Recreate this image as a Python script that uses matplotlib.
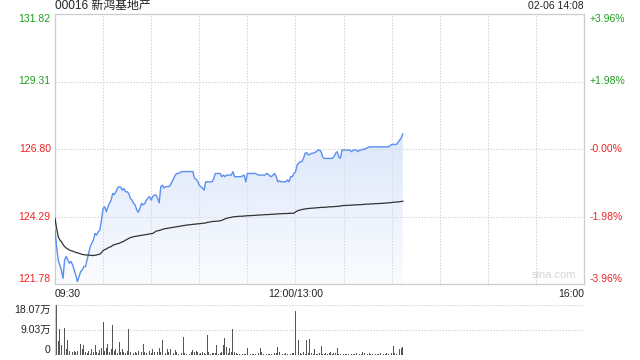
import numpy as np
import matplotlib
matplotlib.use("Agg")
import matplotlib.pyplot as plt
import matplotlib.transforms as mtransforms
from matplotlib.patches import Polygon

plt.rcParams['font.family'] = ['Liberation Sans', 'Noto Sans CJK SC', 'DejaVu Sans']

title = "00016 新鸿基地产"
stamp = "02-06 14:08"
prev_close = 126.80
price_ticks = [131.82, 129.31, 126.80, 124.29, 121.78]
price_labels = ["131.82", "129.31", "126.80", "124.29", "121.78"]
pct_labels = ["+3.96%", "+1.98%", "-0.00%", "-1.98%", "-3.96%"]
label_colors = ["#1f9e1f", "#1f9e1f", "#ee2222", "#ee2222", "#ee2222"]
time_labels = ["09:30", "12:00/13:00", "16:00"]
time_label_pos = [0, 150, 330]
total_minutes = 330
vol_ticks = [18.07, 9.03, 0]
vol_labels = ["18.07万", "9.03万", "0"]

price = [
    123.79, 123.17, 122.67, 122.49, 122.30, 121.99, 122.67, 122.80, 122.67, 122.55,
    122.62, 122.49, 122.30, 122.11, 121.87, 122.05, 122.24, 122.30, 122.43, 122.43,
    122.67, 122.92, 123.17, 123.30, 123.42, 123.66, 123.60, 123.72, 123.79, 124.16,
    124.59, 124.65, 124.47, 124.65, 124.78, 124.90, 125.15, 125.10, 125.21, 125.34,
    125.40, 125.38, 125.27, 125.33, 125.21, 125.21, 125.15, 124.97, 124.90, 124.78,
    124.72, 124.53, 124.45, 124.60, 124.78, 124.72, 124.78, 124.90, 124.97, 125.03,
    124.90, 125.03, 125.09, 125.09, 124.97, 124.80, 125.40, 125.46, 125.35, 125.40,
    125.40, 125.40, 125.46, 125.58, 125.70, 125.83, 125.89, 125.89, 125.92, 125.96,
    125.96, 125.96, 125.96, 125.96, 125.96, 125.96, 125.96, 125.71, 125.68, 125.60,
    125.45, 125.40, 125.35, 125.27, 125.58, 125.58, 125.58, 125.58, 125.58, 125.70,
    125.89, 125.89, 125.89, 125.89, 125.77, 125.83, 125.77, 125.83, 125.83, 125.83,
    125.83, 125.96, 125.77, 125.77, 125.77, 125.77, 125.77, 125.80, 125.83, 125.58,
    125.89, 125.89, 125.89, 125.89, 125.89, 125.89, 125.86, 125.83, 125.83, 125.83,
    125.83, 125.83, 125.89, 125.86, 125.80, 125.77, 125.83, 125.89, 125.77, 125.58,
    125.62, 125.58, 125.58, 125.58, 125.58, 125.65, 125.58, 125.77, 125.77, 125.89,
    125.95, 126.20, 126.27, 126.33, 126.33, 126.45, 126.64, 126.67, 126.58, 126.60,
    126.64, 126.64, 126.67, 126.70, 126.76, 126.76, 126.70, 126.51, 126.45, 126.45,
    126.45, 126.45, 126.45, 126.45, 126.51, 126.64, 126.70, 126.51, 126.45, 126.76,
    126.76, 126.76, 126.76, 126.76, 126.76, 126.70, 126.76, 126.76, 126.76, 126.70,
    126.76, 126.76, 126.79, 126.79, 126.82, 126.85, 126.88, 126.88, 126.88, 126.88,
    126.88, 126.88, 126.88, 126.88, 126.88, 126.88, 126.88, 126.88, 126.88, 126.92,
    126.97, 126.97, 126.97, 126.97, 127.05, 127.13, 127.22, 127.36,
]

avg_price = [
    124.22, 123.85, 123.54, 123.42, 123.35, 123.25, 123.17, 123.12, 123.08, 123.04,
    123.02, 123.00, 122.98, 122.95, 122.94, 122.92, 122.90, 122.88, 122.87, 122.86,
    122.86, 122.85, 122.85, 122.84, 122.84, 122.85, 122.86, 122.88, 122.89, 122.95,
    123.02, 123.06, 123.08, 123.12, 123.15, 123.17, 123.22, 123.24, 123.26, 123.28,
    123.29, 123.32, 123.35, 123.37, 123.41, 123.44, 123.48, 123.50, 123.52, 123.54,
    123.55, 123.56, 123.57, 123.58, 123.59, 123.60, 123.61, 123.62, 123.63, 123.64,
    123.65, 123.66, 123.70, 123.74, 123.76, 123.77, 123.79, 123.81, 123.83, 123.84,
    123.85, 123.86, 123.87, 123.88, 123.89, 123.90, 123.91, 123.92, 123.93, 123.94,
    123.95, 123.96, 123.97, 123.98, 123.98, 123.99, 124.00, 124.00, 124.01, 124.02,
    124.02, 124.03, 124.04, 124.04, 124.05, 124.07, 124.08, 124.09, 124.10, 124.11,
    124.11, 124.12, 124.12, 124.13, 124.15, 124.17, 124.20, 124.22, 124.24, 124.25,
    124.26, 124.28, 124.28, 124.29, 124.29, 124.30, 124.30, 124.30, 124.31, 124.31,
    124.32, 124.32, 124.32, 124.33, 124.33, 124.33, 124.34, 124.34, 124.35, 124.35,
    124.35, 124.36, 124.36, 124.36, 124.37, 124.37, 124.37, 124.38, 124.38, 124.39,
    124.39, 124.39, 124.40, 124.40, 124.40, 124.40, 124.41, 124.41, 124.41, 124.41,
    124.46, 124.49, 124.52, 124.53, 124.55, 124.56, 124.57, 124.58, 124.59, 124.59,
    124.60, 124.60, 124.61, 124.61, 124.62, 124.62, 124.63, 124.63, 124.63, 124.64,
    124.64, 124.65, 124.65, 124.65, 124.66, 124.66, 124.67, 124.67, 124.68, 124.69,
    124.70, 124.70, 124.70, 124.71, 124.71, 124.71, 124.72, 124.72, 124.72, 124.73,
    124.73, 124.73, 124.74, 124.74, 124.75, 124.75, 124.75, 124.76, 124.76, 124.76,
    124.77, 124.77, 124.77, 124.78, 124.78, 124.78, 124.79, 124.79, 124.80, 124.80,
    124.81, 124.82, 124.82, 124.83, 124.83, 124.84, 124.85, 124.86,
]

volume_wan = [
    12.6, 18.07, 5.0, 9.3, 3.6, 3.0, 9.6, 2.0, 5.6, 1.5,
    6.6, 1.2, 1.5, 1.0, 1.3, 0.8, 4.0, 2.0, 3.6, 1.0,
    0.8, 1.5, 0.5, 2.0, 1.2, 3.6, 1.0, 0.6, 1.8, 2.5,
    12.0, 1.5, 2.4, 4.0, 1.0, 2.2, 10.8, 1.5, 2.0, 0.8,
    4.8, 1.2, 2.0, 1.0, 0.7, 1.3, 9.3, 1.0, 3.6, 0.6,
    1.0, 0.8, 1.5, 0.5, 1.0, 4.0, 1.2, 0.6, 0.4, 1.5,
    0.8, 2.0, 1.0, 5.8, 1.2, 2.5, 1.0, 5.4, 1.5, 0.8,
    2.0, 1.0, 2.3, 1.2, 0.6, 1.8, 1.0, 0.5, 1.2, 0.8,
    6.6, 0.7, 0.5, 1.2, 0.4, 1.0, 1.8, 1.2, 1.6, 1.0,
    0.5, 0.8, 1.0, 0.6, 0.4, 7.2, 1.0, 0.5, 0.8, 0.6,
    0.6, 3.6, 0.4, 0.7, 1.0, 3.6, 6.0, 3.0, 0.8, 2.5,
    1.0, 9.3, 1.2, 0.6, 0.5, 0.4, 0.3, 0.5, 0.3, 0.4,
    2.5, 0.6, 0.4, 0.3, 0.5, 0.2, 0.4, 0.6, 2.5, 1.0,
    0.4, 0.3, 0.5, 0.2, 0.3, 0.4, 0.5, 0.8, 0.6, 3.0,
    1.2, 0.5, 0.4, 0.3, 0.6, 0.5, 0.4, 0.3, 0.8, 0.6,
    16.0, 0.8, 5.4, 0.6, 0.5, 1.0, 0.5, 5.6, 0.8, 5.8,
    0.6, 0.4, 2.0, 0.5, 0.3, 0.6, 3.2, 0.5, 0.4, 0.8,
    0.5, 0.6, 1.0, 0.4, 0.6, 0.8, 2.5, 0.5, 0.4, 5.4,
    0.5, 0.3, 0.4, 0.3, 0.5, 0.3, 0.4, 0.5, 0.6, 0.8,
    0.5, 0.4, 1.0, 0.6, 1.2, 0.5, 0.6, 0.3, 0.4, 0.5,
    0.3, 0.4, 0.5, 0.6, 0.4, 0.3, 0.5, 0.7, 0.4, 0.6,
    0.8, 3.2, 0.6, 0.5, 1.0, 2.0, 2.6, 2.8,
]

n = len(price)
minutes = np.arange(n)

fig = plt.figure(figsize=(6.4, 3.6), dpi=100)
W, H = 640, 360
L, R = 55, 584
ax = fig.add_axes([L / W, 1 - 284 / H, (R - L) / W, (284 - 14) / H])
axv = fig.add_axes([L / W, 1 - 355 / H, (R - L) / W, (355 - 305) / H])

grid_c = "#cfcfcf"
spine_c = "#cccccc"
fs = 7.5

# ---- main price axes ----
ymin, ymax = price_ticks[-1], price_ticks[0]
ax.set_xlim(0, total_minutes)
ax.set_ylim(ymin, ymax)

# gradient fill under price line
grad = np.linspace(1, 0, 256)
rgba = np.zeros((256, 1, 4))
rgba[:, 0, 0] = 0.84
rgba[:, 0, 1] = 0.89
rgba[:, 0, 2] = 0.98
rgba[:, 0, 3] = grad * 0.75 + 0.1
top_price = max(price)
im = ax.imshow(rgba, aspect='auto', extent=[0, n - 1, ymin, top_price],
               origin='upper', zorder=1, interpolation='bilinear')
verts = [(0, ymin)] + list(zip(minutes, price)) + [(n - 1, ymin)]
poly = Polygon(verts, closed=True, facecolor='none', edgecolor='none')
ax.add_patch(poly)
im.set_clip_path(poly)
ax.set_xlim(0, total_minutes)
ax.set_ylim(ymin, ymax)

ax.plot(minutes, price, color="#5b8ff0", lw=1.0, zorder=3)
ax.plot(minutes, avg_price, color="#333333", lw=0.9, zorder=3)

for v in price_ticks[1:-1]:
    ax.axhline(v, color=grid_c, lw=0.8, ls=(0, (1.2, 1.5)), zorder=0.5)
for m in range(30, total_minutes, 30):
    ax.axvline(m, color=grid_c, lw=0.8, ls=(0, (1.2, 1.5)), zorder=0.5)

for s in ax.spines.values():
    s.set_color(spine_c)
    s.set_linewidth(0.9)
ax.set_xticks([])
ax.set_yticks([])

trans_l = mtransforms.blended_transform_factory(ax.transAxes, ax.transData)
vas = ['top', 'center', 'center', 'center', 'bottom']
for v, lab, plab, c, va in zip(price_ticks, price_labels, pct_labels, label_colors, vas):
    ax.text(-0.008, v, lab, transform=trans_l, ha='right', va=va, color=c, fontsize=fs)
    ax.text(1.011, v, plab, transform=trans_l, ha='left', va=va, color=c, fontsize=fs)

trans_x = mtransforms.blended_transform_factory(ax.transData, ax.transAxes)
has = ['left', 'center', 'right']
for p, lab, ha in zip(time_label_pos, time_labels, has):
    ax.text(p, -0.017, lab, transform=trans_x, ha=ha, va='top', color="#222222", fontsize=fs)

ax.text(0, 1.008, title, transform=ax.transAxes, ha='left', va='bottom',
        fontsize=8.6, color="#222222")
ax.text(1, 1.012, stamp, transform=ax.transAxes, ha='right', va='bottom',
        fontsize=7.5, color="#222222")
ax.text(0.985, 0.015, "sina.com", transform=ax.transAxes, ha='right', va='bottom',
        fontsize=8, color="#d5d5d5")

# ---- volume axes ----
axv.set_xlim(0, total_minutes)
axv.set_ylim(0, vol_ticks[0])
axv.bar(minutes, volume_wan, width=0.55, color="#555555", zorder=2)
for v in vol_ticks[:2]:
    axv.axhline(v, color=grid_c, lw=0.8, ls=(0, (1.2, 1.5)), zorder=0.5)
for k, s in axv.spines.items():
    s.set_visible(k == 'left')
    s.set_color(spine_c)
axv.axhline(0, color=grid_c, lw=0.8, ls=(0, (1.2, 1.5)), zorder=0.5)
axv.set_xticks([])
axv.set_yticks([])
trans_v = mtransforms.blended_transform_factory(axv.transAxes, axv.transData)
for v, lab, va in zip(vol_ticks, vol_labels, ['top', 'center', 'bottom']):
    axv.text(-0.008, v, lab, transform=trans_v, ha='right', va=va, color="#222222", fontsize=fs)

fig.savefig("out.png", dpi=100)
